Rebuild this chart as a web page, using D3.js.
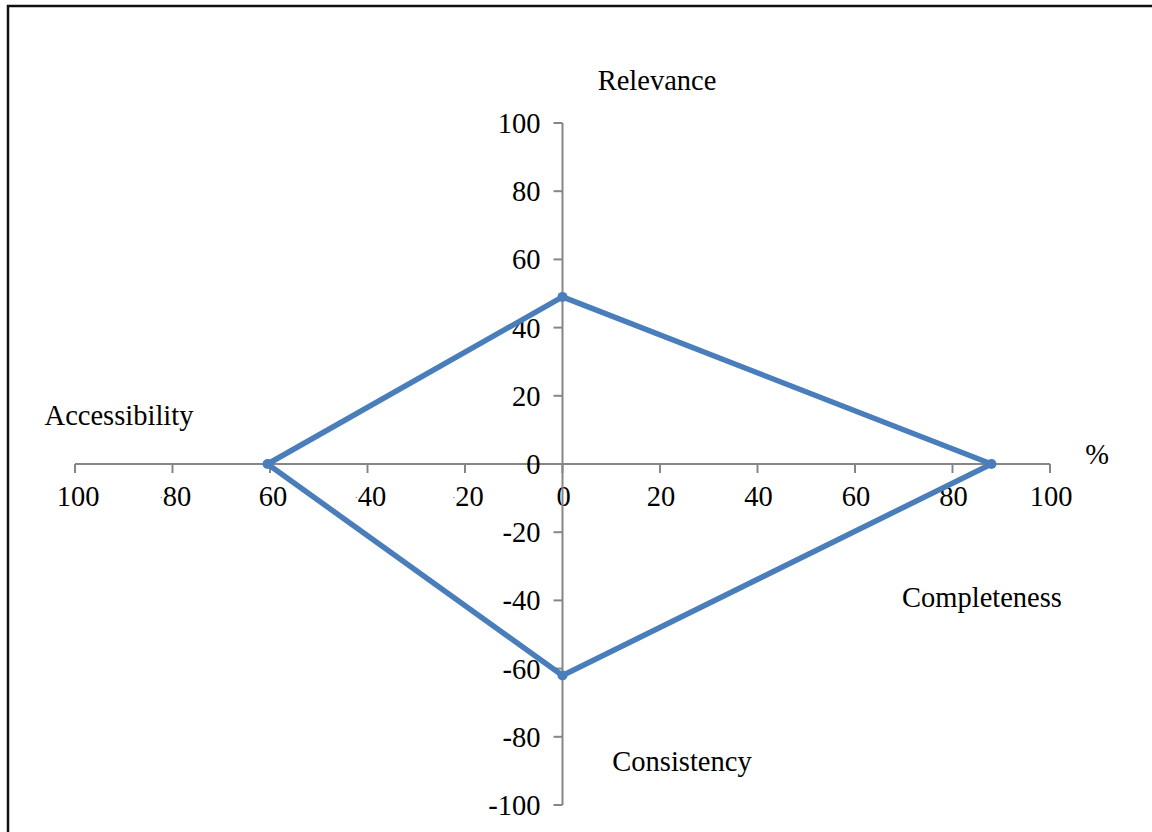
<!DOCTYPE html>
<html>
<head>
<meta charset="utf-8">
<script src="https://cdn.jsdelivr.net/npm/d3@7"></script>
<style>
  html, body { margin: 0; padding: 0; background: #fff; }
  svg { display: block; }
  text { font-family: "Liberation Serif", "Times New Roman", serif; fill: #000; }
</style>
</head>
<body>
<svg id="chart" width="1152" height="832"></svg>
<script>
// Quality dimensions, one per half-axis, and their scores (%)
const categories = ["Relevance", "Completeness", "Consistency", "Accessibility"];
const values = [49, 88, 62, 60.5];
// Direction of each dimension on the cross: [dx, dy]
const directions = [[0, 1], [1, 0], [0, -1], [-1, 0]];

const tickValues = [-100, -80, -60, -40, -20, 0, 20, 40, 60, 80, 100];
const xTickLabels = ["100", "·80", "60", "·40", "·20", "0", "20", "40", "60", "80", "100"];
const yTickLabels = ["-100", "-80", "-60", "-40", "-20", "0", "20", "40", "60", "80", "100"];

const svg = d3.select("#chart");
const x = d3.scaleLinear().domain([-100, 100]).range([75, 1050]);
const y = d3.scaleLinear().domain([-100, 100]).range([805, 123]);

const axisColor = "#868686";
const lineColor = "#4a7ebb";
const fontSize = 28.5;

// Outer frame
svg.append("path")
  .attr("d", "M8,832 L8,6 L1152,6")
  .attr("fill", "none").attr("stroke", "#111").attr("stroke-width", 2.5);

// Horizontal axis
const gx = svg.append("g").attr("transform", `translate(0,${y(0)})`);
gx.append("line")
  .attr("x1", x(-100)).attr("x2", x(100))
  .attr("stroke", axisColor).attr("stroke-width", 2);
gx.selectAll("line.tick").data(tickValues).join("line")
  .attr("class", "tick")
  .attr("x1", d => x(d)).attr("x2", d => x(d))
  .attr("y1", 0).attr("y2", 9)
  .attr("stroke", axisColor).attr("stroke-width", 2);
const xl = gx.selectAll("text.lab").data(tickValues).join("text")
  .attr("class", "lab")
  .attr("x", d => x(d) + (d < 0 ? 3 : 1))
  .attr("y", 42)
  .attr("text-anchor", "middle")
  .style("font-size", fontSize + "px");
xl.each(function(d, i) {
  const t = d3.select(this);
  const s = xTickLabels[i];
  if (s.startsWith("·")) {
    t.append("tspan").style("font-size", "9px").attr("dy", -6).text("·");
    t.append("tspan").attr("dy", 6).text(s.slice(1));
  } else {
    t.text(s);
  }
});

// Vertical axis
const gy = svg.append("g").attr("transform", `translate(${x(0)},0)`);
gy.append("line")
  .attr("y1", y(-100)).attr("y2", y(100))
  .attr("stroke", axisColor).attr("stroke-width", 2);
gy.selectAll("line.tick").data(tickValues).join("line")
  .attr("class", "tick")
  .attr("y1", d => y(d)).attr("y2", d => y(d))
  .attr("x1", 0).attr("x2", -9)
  .attr("stroke", axisColor).attr("stroke-width", 2);
gy.selectAll("text.lab").data(tickValues).join("text")
  .attr("class", "lab")
  .attr("x", -22)
  .attr("y", d => y(d) + 10)
  .attr("text-anchor", "end")
  .style("font-size", fontSize + "px")
  .text((d, i) => yTickLabels[i]);

// Dimension labels and unit
const labels = [
  { text: categories[0], x: 657, y: 90, anchor: "middle" },
  { text: categories[1], x: 982, y: 607, anchor: "middle" },
  { text: categories[2], x: 682, y: 771, anchor: "middle" },
  { text: categories[3], x: 119, y: 425, anchor: "middle" },
  { text: "%", x: 1097, y: 464, anchor: "middle" }
];
svg.selectAll("text.cat").data(labels).join("text")
  .attr("class", "cat")
  .attr("x", d => d.x).attr("y", d => d.y)
  .attr("text-anchor", d => d.anchor)
  .style("font-size", fontSize + "px")
  .text(d => d.text);

// Score polygon
const pts = values.map((v, i) => [x(directions[i][0] * v), y(directions[i][1] * v)]);
svg.append("path")
  .attr("d", d3.line()(pts) + "Z")
  .attr("fill", "none")
  .attr("stroke", lineColor)
  .attr("stroke-width", 5.5)
  .attr("stroke-linejoin", "round");
svg.selectAll("circle.pt").data(pts).join("circle")
  .attr("class", "pt")
  .attr("cx", d => d[0]).attr("cy", d => d[1])
  .attr("r", 5)
  .attr("fill", lineColor);
</script>
</body>
</html>
